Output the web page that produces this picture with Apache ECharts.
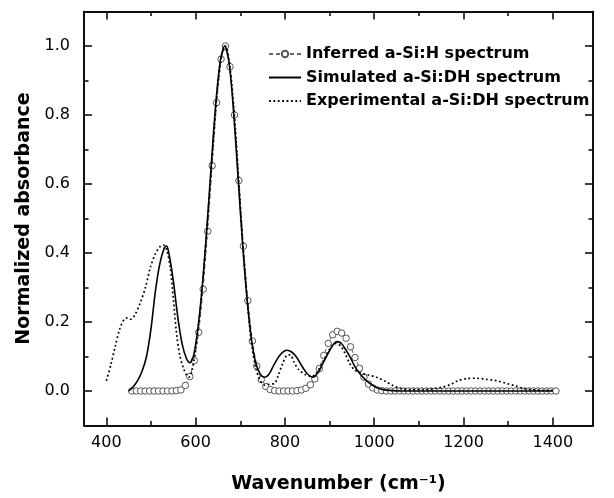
<!DOCTYPE html>
<html><head><meta charset="utf-8">
<script src="https://cdn.jsdelivr.net/npm/echarts@6/dist/echarts.min.js"></script>
<style>html,body{margin:0;padding:0;background:#fff}#c{width:614px;height:498px}</style>
</head><body><div id="c"></div>
<script>
const seriesNames = ['Inferred a-Si:H spectrum', 'Simulated a-Si:DH spectrum', 'Experimental a-Si:DH spectrum'];
const xMajorTicks = [400, 600, 800, 1000, 1200, 1400];
const xMinorTicks = [500, 700, 900, 1100, 1300];
const yMajorTicks = [0, 0.2, 0.4, 0.6, 0.8, 1.0];
const yMinorTicks = [0.1, 0.3, 0.5, 0.7, 0.9];

const inferredX = [457,467,477,487,497,507,517,527,537,547,
  557,567,577,587,597,607,617,627,637,647,
  657,667,677,687,697,707,717,727,737,747,
  757,767,777,787,797,807,817,827,837,847,
  857,867,877,887,897,907,917,927,937,947,
  957,967,977,987,997,1007,1017,1027,1037,1047,
  1057,1067,1077,1087,1097,1107,1117,1127,1137,1147,
  1157,1167,1177,1187,1197,1207,1217,1227,1237,1247,
  1257,1267,1277,1287,1297,1307,1317,1327,1337,1347,
  1357,1367,1377,1387,1397,1407];
const inferredY = [0,0,0,0,0,0,0,0,0,0,
  0.001,0.003,0.016,0.042,0.088,0.17,0.295,0.463,0.653,0.836,
  0.962,1.0,0.94,0.80,0.61,0.42,0.262,0.145,0.072,0.033,
  0.013,0.004,0.001,0,0,0,0,0.001,0.003,0.008,
  0.018,0.035,0.065,0.103,0.138,0.163,0.173,0.168,0.153,0.128,
  0.097,0.066,0.04,0.02,0.009,0.003,0.001,0,0,0,
  0,0,0,0,0,0,0,0,0,0,
  0,0,0,0,0,0,0,0,0,0,
  0,0,0,0,0,0,0,0,0,0,
  0,0,0,0,0,0];

const simX = [450,460,470,480,490,500,510,520,530,535,540,550,560,570,580,587,595,605,615,625,635,645,655,665,675,685,695,705,715,725,735,745,755,765,775,790,805,815,825,840,850,863,875,885,897,908,917,927,937,947,957,968,980,990,1005,1020,1040,1060,1100,1200,1300,1400];
const simY = [0.0,0.012,0.03,0.057,0.1,0.18,0.29,0.37,0.415,0.42,0.40,0.32,0.215,0.135,0.092,0.082,0.1,0.18,0.305,0.47,0.655,0.83,0.955,1.0,0.95,0.81,0.62,0.43,0.27,0.15,0.08,0.048,0.04,0.05,0.075,0.106,0.118,0.113,0.1,0.068,0.05,0.04,0.055,0.08,0.11,0.134,0.143,0.137,0.118,0.096,0.07,0.05,0.033,0.022,0.01,0.004,0.001,0,0,0,0,0];

const expX = [400,410,420,430,440,447,455,465,477,488,499,510,520,528,535,543,550,557,565,573,580,585,592,600,610,620,630,640,650,660,667,675,685,695,705,715,725,735,745,755,767,777,785,795,805,812,820,830,845,860,872,885,897,907,915,925,935,945,955,965,985,1005,1025,1040,1057,1080,1110,1140,1155,1173,1188,1207,1230,1250,1274,1296,1318,1333,1350,1380,1400];
const expY = [0.03,0.075,0.13,0.18,0.208,0.212,0.208,0.223,0.259,0.302,0.36,0.398,0.418,0.423,0.41,0.36,0.27,0.17,0.1,0.065,0.045,0.04,0.06,0.12,0.23,0.38,0.55,0.73,0.89,0.985,1.0,0.96,0.83,0.64,0.44,0.27,0.14,0.065,0.03,0.017,0.02,0.022,0.045,0.08,0.104,0.105,0.085,0.063,0.048,0.042,0.055,0.085,0.115,0.133,0.138,0.13,0.108,0.08,0.062,0.055,0.047,0.04,0.028,0.017,0.008,0.004,0.004,0.008,0.012,0.02,0.03,0.036,0.037,0.034,0.03,0.022,0.014,0.008,0.004,0.002,0.002];

const FONT = 'DejaVu Sans';
const pair = (xs, ys) => xs.map((x, i) => [x, ys[i]]);

function xAx(pos, ticks, len, withLabel) {
  return {
    type: 'value', position: pos, min: 350, max: 1490,
    axisLine: { show: true, onZero: false, lineStyle: { color: '#000', width: 1.5 } },
    axisTick: { show: true, inside: true, length: len, customValues: ticks, lineStyle: { color: '#000', width: 1.5 } },
    axisLabel: { show: withLabel, customValues: ticks, margin: 9, color: '#000', fontFamily: FONT, fontSize: 16,
      formatter: v => String(v) },
    splitLine: { show: false }, minorTick: { show: false },
    name: withLabel ? 'Wavenumber (cm\u207B\u00B9)' : '',
    nameLocation: 'middle', nameGap: 49,
    nameTextStyle: { color: '#000', fontFamily: FONT, fontWeight: 'bold', fontSize: 19 }
  };
}
function yAx(pos, ticks, len, withLabel) {
  return {
    type: 'value', position: pos, min: -0.1, max: 1.1,
    axisLine: { show: true, onZero: false, lineStyle: { color: '#000', width: 1.5 } },
    axisTick: { show: true, inside: true, length: len, customValues: ticks, lineStyle: { color: '#000', width: 1.5 } },
    axisLabel: { show: withLabel, customValues: ticks, margin: 14, color: '#000', fontFamily: FONT, fontSize: 16,
      formatter: v => v.toFixed(1) },
    splitLine: { show: false }, minorTick: { show: false },
    name: withLabel ? 'Normalized absorbance' : '',
    nameLocation: 'middle', nameGap: 48, nameRotate: 90,
    nameTextStyle: { color: '#000', fontFamily: FONT, fontWeight: 'bold', fontSize: 19 }
  };
}

const chart = echarts.init(document.getElementById('c'), null, { renderer: 'canvas' });
chart.setOption({
  animation: false,
  backgroundColor: '#fff',
  textStyle: { fontFamily: FONT },
  grid: { left: 84, right: 21, top: 11.5, bottom: 72.5, containLabel: false, outerBoundsMode: 'none' },
  xAxis: [xAx('bottom', xMajorTicks, 8, true), xAx('bottom', xMinorTicks, 4.5, false),
          xAx('top', xMajorTicks, 8, false), xAx('top', xMinorTicks, 4.5, false)],
  yAxis: [yAx('left', yMajorTicks, 8, true), yAx('left', yMinorTicks, 4.5, false),
          yAx('right', yMajorTicks, 8, false), yAx('right', yMinorTicks, 4.5, false)],
  legend: {
    data: [{ name: seriesNames[0] }, { name: seriesNames[1], itemStyle: { opacity: 0 } }, { name: seriesNames[2], itemStyle: { opacity: 0 } }],
    orient: 'vertical', left: 263, top: 41, itemWidth: 32, itemHeight: 8, itemGap: 7.5,
    selectedMode: false,
    textStyle: { fontFamily: FONT, fontWeight: 'bold', fontSize: 16, color: '#000' }
  },
  series: [
    { name: seriesNames[0], type: 'line', data: pair(inferredX, inferredY), xAxisIndex: 0, yAxisIndex: 0,
      symbol: 'circle', symbolSize: 6.5, showSymbol: true, z: 3,
      itemStyle: { color: '#fff', borderColor: '#555', borderWidth: 1 },
      lineStyle: { color: '#666', width: 1, type: [4, 3] } },
    { name: seriesNames[1], type: 'line', data: pair(simX, simY), xAxisIndex: 0, yAxisIndex: 0,
      symbol: 'none', smooth: 0.3, z: 4, itemStyle: { color: '#000' },
      lineStyle: { color: '#000', width: 1.6 } },
    { name: seriesNames[2], type: 'line', data: pair(expX, expY), xAxisIndex: 0, yAxisIndex: 0,
      symbol: 'none', smooth: 0.3, z: 4, itemStyle: { color: '#000' },
      lineStyle: { color: '#000', width: 1.7, type: [1.8, 2.6] } }
  ]
});
</script>
</body></html>
